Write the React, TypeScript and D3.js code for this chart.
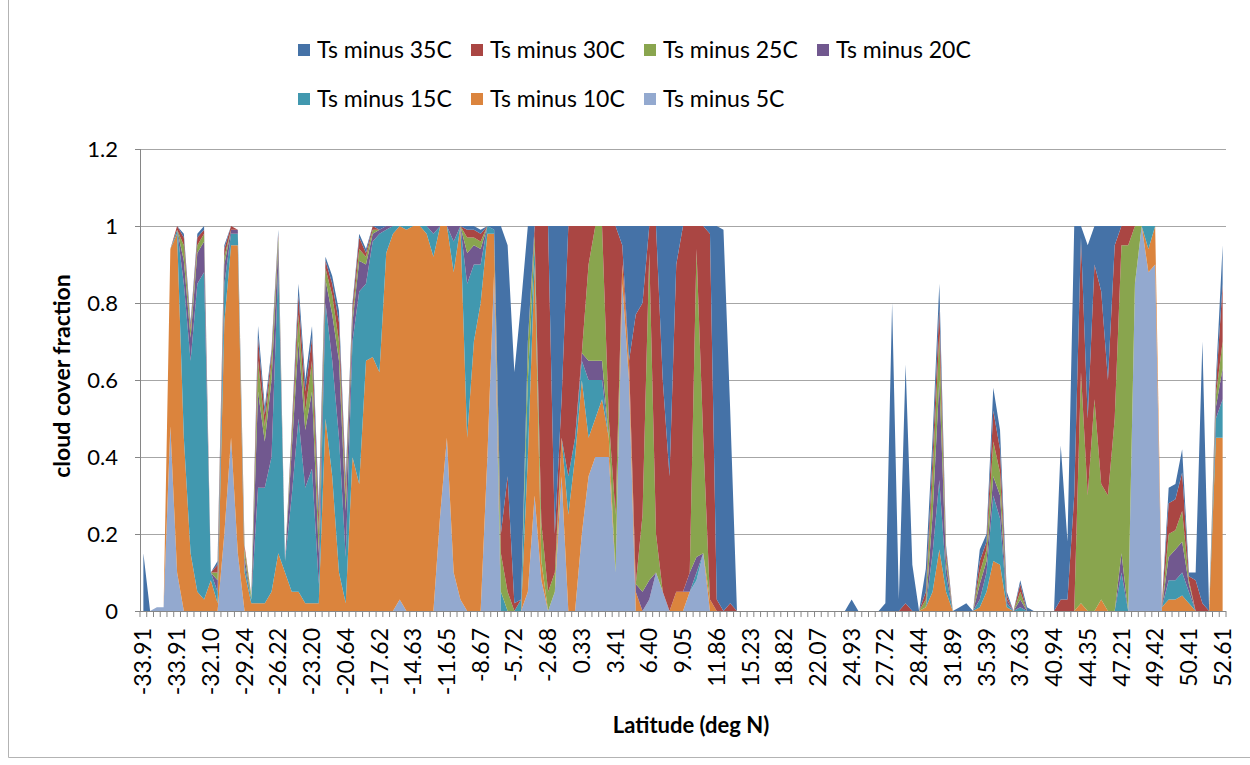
import React, { useEffect, useRef } from 'react';
import * as d3 from 'd3';

// latitude shown under every 5th category
const latLabels = [
  '-33.91', '-33.91', '-32.10', '-29.24', '-26.22', '-23.20', '-20.64', '-17.62', '-14.63', '-11.65', '-8.67',
  '-5.72', '-2.68', '0.33', '3.41', '6.40', '9.05', '11.86', '15.23', '18.82', '22.07', '24.93',
  '27.72', '28.44', '31.89', '35.39', '37.63', '40.94', '44.35', '47.21', '49.42', '50.41', '52.61',
];

// cloud cover fraction per category
const ts5 = [
  0, 0, .01, .01, .48, .10, 0, 0, 0, 0,
  0, 0, .20, .45, .15, 0, 0, 0, 0, 0,
  0, 0, 0, 0, 0, 0, 0, 0, 0, 0,
  0, 0, 0, 0, 0, 0, 0, 0, .03, 0,
  0, 0, 0, 0, .25, .45, .10, .03, 0, 0,
  0, .40, .88, 0, 0, 0, 0, .05, .30, .08,
  0, .05, .35, 0, 0, .20, .35, .40, .40, .40,
  .10, .85, .60, 0, 0, .03, .10, .05, 0, 0,
  0, .05, .08, .15, 0, 0, 0, 0, 0, 0,
  0, 0, 0, 0, 0, 0, 0, 0, 0, 0,
  0, 0, 0, 0, 0, 0, 0, 0, 0, 0,
  0, 0, 0, 0, 0, 0, 0, 0, 0, 0,
  0, 0, 0, 0, 0, 0, 0, 0, 0, 0,
  0, 0, 0, 0, 0, 0, 0, 0, 0, 0,
  0, 0, 0, 0, 0, 0, 0, .85, 1, .88,
  .90, 0, 0, 0, 0, 0, 0, 0, 0, 0,
  0,
];

const ts10 = [
  0, 0, 0, 0, .46, .88, .45, .15, .05, .03,
  .08, .02, .55, .50, .80, .10, .02, .02, .02, .05,
  .15, .10, .05, .05, .02, .02, .02, .50, .35, .10,
  .02, .40, .33, .65, .66, .62, .93, .98, .97, .99,
  1, 1, .98, .92, .75, .55, .78, .97, .45, .70,
  .80, .58, .10, 0, 0, 0, 0, .35, .60, .05,
  0, 0, .10, .25, .40, .40, .10, .10, .15, .05,
  0, .05, .05, .05, 0, 0, 0, 0, 0, .05,
  .05, 0, 0, 0, .03, 0, 0, 0, 0, 0,
  0, 0, 0, 0, 0, 0, 0, 0, 0, 0,
  0, 0, 0, 0, 0, 0, 0, 0, 0, 0,
  0, 0, 0, 0, 0, 0, .01, .05, .16, .05,
  0, 0, 0, 0, .01, .05, .13, .12, .01, 0,
  0, 0, 0, 0, 0, 0, 0, 0, 0, .02,
  0, 0, .03, 0, 0, 0, 0, 0, 0, .06,
  .10, .01, .03, .03, .04, .02, 0, 0, 0, .45,
  .45,
];

const ts15 = [
  0, 0, 0, 0, 0, .01, .40, .50, .80, .85,
  .02, .03, .10, .03, .03, .02, .01, .30, .30, .35,
  .75, .03, .25, .45, .30, .35, .05, .30, .30, .35,
  .12, .30, .50, .20, .30, .36, .06, .02, 0, .01,
  0, 0, .02, .06, 0, 0, .08, 0, .40, .20,
  .10, .02, .01, .05, 0, 0, .03, .20, .05, 0,
  0, 0, 0, .10, .05, .05, .15, .10, .05, 0,
  0, 0, 0, 0, 0, 0, 0, 0, 0, 0,
  0, 0, .02, 0, 0, 0, 0, 0, 0, 0,
  0, 0, 0, 0, 0, 0, 0, 0, 0, 0,
  0, 0, 0, 0, 0, 0, 0, 0, 0, 0,
  0, 0, 0, 0, 0, 0, 0, .10, .18, .04,
  0, 0, 0, 0, .02, .05, .17, .12, .01, 0,
  .01, 0, 0, 0, 0, 0, 0, 0, 0, 0,
  0, 0, 0, 0, 0, .10, 0, 0, 0, .06,
  0, 0, .05, .05, .06, .03, 0, 0, 0, .05,
  .10,
];

const ts20 = [
  0, 0, 0, 0, 0, 0, .06, .06, .08, .08,
  0, .03, .05, .01, .01, .02, 0, .25, .12, .20,
  .05, 0, .12, .20, .15, .20, .08, .06, .12, .20,
  .12, .05, .08, .05, .02, .01, .01, 0, 0, 0,
  0, 0, 0, .02, 0, 0, .04, 0, .08, .05,
  .04, 0, 0, 0, 0, 0, 0, 0, 0, 0,
  0, 0, 0, 0, 0, .02, .05, .05, .05, 0,
  0, 0, 0, .02, .05, .05, 0, 0, 0, 0,
  0, .05, .04, 0, 0, 0, 0, 0, 0, 0,
  0, 0, 0, 0, 0, 0, 0, 0, 0, 0,
  0, 0, 0, 0, 0, 0, 0, 0, 0, 0,
  0, 0, 0, 0, 0, 0, 0, .10, .26, .03,
  0, 0, 0, 0, .04, .03, .05, .06, .01, 0,
  .02, 0, 0, 0, 0, 0, 0, 0, 0, 0,
  0, 0, 0, 0, 0, .05, 0, 0, 0, 0,
  0, 0, .06, .08, .08, .02, 0, 0, 0, .03,
  .08,
];

const ts25 = [
  0, 0, 0, 0, 0, 0, .04, .02, .02, .02,
  0, .02, .02, 0, 0, .02, .01, .08, .04, .05,
  .02, 0, .03, .07, .05, .08, .06, .03, .05, .05,
  .04, .02, .03, .02, .01, 0, 0, 0, 0, 0,
  0, 0, 0, 0, 0, 0, 0, 0, .04, .02,
  .02, 0, 0, .10, .05, 0, 0, .10, .03, .10,
  .05, .05, 0, 0, 0, 0, .25, .35, .35, .05,
  .15, 0, 0, 0, .20, .85, .10, 0, 0, 0,
  0, 0, .80, .30, 0, 0, 0, 0, 0, 0,
  0, 0, 0, 0, 0, 0, 0, 0, 0, 0,
  0, 0, 0, 0, 0, 0, 0, 0, 0, 0,
  0, 0, 0, 0, 0, 0, .02, .10, .12, .02,
  0, 0, 0, 0, .03, .03, .09, .06, 0, 0,
  .02, 0, 0, 0, 0, 0, 0, 0, 0, .60,
  .30, .55, .30, .30, .50, .80, .95, .15, 0, 0,
  0, 0, .06, .05, .08, .01, 0, 0, 0, .03,
  .07,
];

const ts30 = [
  0, 0, 0, 0, 0, .01, .02, .01, .02, .01,
  0, .02, .02, .01, 0, .01, 0, .06, .03, .02,
  .01, 0, .02, .05, .05, .06, .04, .02, .03, .05,
  .03, .02, .03, .01, .01, 0, 0, 0, 0, 0,
  0, 0, 0, 0, 0, 0, 0, 0, .02, .02,
  .02, 0, 0, .05, .30, .02, 0, 0, .02, .77,
  .95, .10, .10, .65, .55, .33, .10, 0, 0, .50,
  .75, .05, 0, .70, .55, .07, .80, .55, .35, .85,
  .95, .90, .06, .55, .95, .03, 0, .02, 0, 0,
  0, 0, 0, 0, 0, 0, 0, 0, 0, 0,
  0, 0, 0, 0, 0, 0, 0, 0, 0, 0,
  0, 0, 0, .02, 0, 0, .02, .05, .07, .02,
  0, 0, 0, 0, .03, .02, .08, .06, .01, 0,
  .02, 0, 0, 0, 0, 0, .03, .03, .30, .35,
  .20, .35, .50, .30, .45, .05, .05, 0, 0, 0,
  0, .01, .08, .08, .10, .01, .08, .02, 0, .02,
  .15,
];

const ts35 = [
  .15, 0, 0, 0, 0, 0, .01, .01, .01, .01,
  0, .01, .01, 0, 0, 0, 0, .03, .02, .01,
  .01, 0, .01, .03, .03, .03, .03, .01, .02, .03,
  .02, .01, .01, .01, 0, .01, 0, 0, 0, 0,
  0, 0, 0, 0, 0, 0, 0, 0, .01, .01,
  .01, 0, .01, .80, .60, .60, .77, .30, 0, 0,
  0, .80, .45, 0, 0, 0, 0, 0, 0, 0,
  0, .05, .35, .23, .20, 0, 0, .40, .65, .10,
  0, 0, 0, 0, .02, .97, .99, .50, 0, 0,
  0, 0, 0, 0, 0, 0, 0, 0, 0, 0,
  0, 0, 0, 0, 0, .03, 0, 0, 0, 0,
  .02, .80, .03, .62, .12, 0, .06, .05, .06, .01,
  0, .01, .02, 0, .03, .02, .06, .05, .01, 0,
  .01, .01, 0, 0, 0, 0, .40, .15, .70, .03,
  .45, .10, .17, .40, .05, 0, 0, 0, 0, 0,
  0, 0, .04, .04, .06, .01, .02, .68, 0, .02,
  .10,
];

const seriesNames = ['Ts minus 35C', 'Ts minus 30C', 'Ts minus 25C', 'Ts minus 20C', 'Ts minus 15C', 'Ts minus 10C', 'Ts minus 5C'];
const seriesValues = [ts35, ts30, ts25, ts20, ts15, ts10, ts5];
const seriesColors = ['#4572A7', '#AA4643', '#89A54E', '#71588F', '#4198AF', '#DB843D', '#93A9CF'];
const yTicks = [0, 0.2, 0.4, 0.6, 0.8, 1, 1.2];
const labelEvery = 5;

const FONT = 'Lato, "Open Sans", sans-serif';

const CloudChart = () => {
  const ref = useRef<SVGSVGElement>(null);

  useEffect(() => {
    const svg = d3.select(ref.current);
    svg.selectAll('*').remove();

    const W = 1250;
    const H = 765;
    const margin = { top: 149, right: 24, bottom: 154, left: 140 };
    const width = W - margin.left - margin.right;
    const height = H - margin.top - margin.bottom;

    const n = ts5.length;
    const rows = d3.range(n).map(i => {
      const r: any = { i };
      seriesNames.forEach((name, k) => { r[name] = seriesValues[k][i]; });
      return r;
    });

    // the last series sits at the bottom of the stack
    const keys = seriesNames.slice().reverse();
    const stacked = d3.stack().keys(keys)(rows);

    const x = d3.scaleBand<number>().domain(d3.range(n)).range([0, width]);
    const bw = x.bandwidth();
    const cx = (i: number) => (x(i) as number) + bw / 2;
    const y = d3.scaleLinear().domain([0, 1.2]).range([height, 0]);
    const color = d3.scaleOrdinal<string, string>().domain(seriesNames).range(seriesColors);

    // chart area border (left and bottom visible)
    svg.append('path')
      .attr('d', `M8.5,0 V757.5 H${W}`)
      .attr('fill', 'none')
      .attr('stroke', '#b3b3b3');

    const g = svg.append('g').attr('transform', `translate(${margin.left},${margin.top})`);

    g.append('g')
      .selectAll('line')
      .data(yTicks.filter(t => t > 0))
      .enter()
      .append('line')
      .attr('x1', 0)
      .attr('x2', width)
      .attr('y1', d => Math.round(y(d)) + 0.5)
      .attr('y2', d => Math.round(y(d)) + 0.5)
      .attr('stroke', '#a6a6a6');

    const area = d3.area<any>()
      .x(d => cx(d.data.i))
      .y0(d => y(d[0]))
      .y1(d => y(d[1]));

    g.append('g')
      .selectAll('path')
      .data(stacked)
      .enter()
      .append('path')
      .attr('fill', d => color(d.key))
      .attr('d', area);

    // y axis
    const yAxis = g.append('g')
      .call(d3.axisLeft(y).tickValues(yTicks).tickSize(5).tickPadding(17).tickFormat(d => String(+(+d).toFixed(1))));
    yAxis.select('.domain').attr('stroke', '#868686').attr('d', `M0.5,${height}V${y(1.2)}`);
    yAxis.selectAll('.tick line').attr('stroke', '#868686');
    yAxis.selectAll('.tick text')
      .attr('fill', '#000')
      .style('font-family', FONT)
      .style('font-size', '22px');

    // x axis: baseline, a tick at every category boundary, label every 5th
    const xAxis = g.append('g').attr('transform', `translate(0,${height})`);
    xAxis.append('line')
      .attr('x1', 0).attr('x2', width)
      .attr('y1', 0.5).attr('y2', 0.5)
      .attr('stroke', '#868686');
    xAxis.selectAll('.xt')
      .data(d3.range(n + 1))
      .enter()
      .append('line')
      .attr('class', 'xt')
      .attr('x1', i => i * bw)
      .attr('x2', i => i * bw)
      .attr('y1', 0)
      .attr('y2', 6)
      .attr('stroke', '#868686');
    xAxis.selectAll('.xl')
      .data(latLabels)
      .enter()
      .append('text')
      .attr('class', 'xl')
      .attr('transform', (d, j) => `translate(${cx(j * labelEvery)},17) rotate(-90)`)
      .attr('text-anchor', 'end')
      .attr('dy', '0.35em')
      .style('font-family', FONT)
      .style('font-size', '23px')
      .text(d => d);

    // axis titles
    svg.append('text')
      .attr('transform', `translate(62,${margin.top + height / 2 - 4}) rotate(-90)`)
      .attr('text-anchor', 'middle')
      .attr('dy', '0.35em')
      .style('font-family', FONT)
      .style('font-size', '23px')
      .style('font-weight', 'bold')
      .text('cloud cover fraction');

    svg.append('text')
      .attr('x', 691)
      .attr('y', 725)
      .attr('text-anchor', 'middle')
      .attr('dy', '0.35em')
      .style('font-family', FONT)
      .style('font-size', '22px')
      .style('font-weight', 'bold')
      .text('Latitude (deg N)');

    // legend: two rows, four per row
    const legend = svg.append('g');
    seriesNames.forEach((name, k) => {
      const lx = 298 + (k % 4) * 173;
      const ly = k < 4 ? 50 : 99;
      legend.append('rect')
        .attr('x', lx)
        .attr('y', ly - 6)
        .attr('width', 12)
        .attr('height', 12)
        .attr('fill', color(name));
      legend.append('text')
        .attr('x', lx + 19)
        .attr('y', ly)
        .attr('dy', '0.35em')
        .style('font-family', FONT)
        .style('font-size', '23px')
        .text(name);
    });
  }, []);

  return (
    <svg
      ref={ref}
      width={1250}
      height={765}
      style={{ position: 'absolute', left: 0, top: 0, background: '#fff' }}
    />
  );
};

export default function App() {
  return <CloudChart />;
}
